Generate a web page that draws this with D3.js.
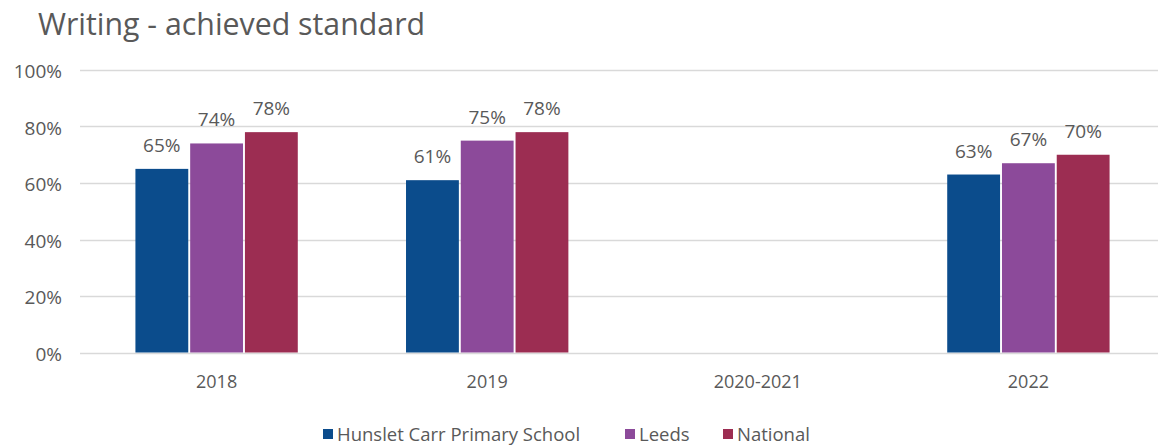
<!DOCTYPE html>
<html>
<head>
<meta charset="utf-8">
<script src="https://cdn.jsdelivr.net/npm/d3@7"></script>
<style>
  html, body { margin: 0; padding: 0; background: #fff; }
  svg { display: block; font-family: "Open Sans", "Noto Sans", sans-serif; }
</style>
</head>
<body>
<svg id="chart" width="1158" height="448"></svg>
<script>
// Writing attainment: percentage of pupils achieving the expected standard
const years = ["2018", "2019", "2020-2021", "2022"];
const seriesNames = ["Hunslet Carr Primary School", "Leeds", "National"];
const school   = [65, 61, null, 63];
const leeds    = [74, 75, null, 67];
const national = [78, 78, null, 70];
const yTicks = [0, 20, 40, 60, 80, 100];
const colours = ["#0B4C8C", "#8C4A9A", "#9C2D52"];

const seriesValues = [school, leeds, national];
const rows = years.map((yr, i) => ({
  year: yr,
  values: seriesNames.map((name, s) => ({ name, s, v: seriesValues[s][i] }))
}));

const svg = d3.select("#chart");
const W = 1158;
const textColour = "#595959";

const x0 = d3.scaleBand().domain(years).range([81.3, 1163.7]).paddingInner(0.4).paddingOuter(0.2);
const x1 = d3.scaleBand().domain(seriesNames).range([0, x0.bandwidth()]).paddingInner(0.035);
const y = d3.scaleLinear().domain([0, 100]).range([352.5, 70]);

// title
svg.append("text")
  .attr("x", 38).attr("y", 35)
  .attr("fill", textColour)
  .style("font-size", "30.3px")
  .text("Writing - achieved standard");

// horizontal gridlines with percentage labels
const yAxis = d3.axisLeft(y).tickValues(yTicks).tickFormat(d => d + "%").tickSize(0).tickPadding(0);
const yg = svg.append("g").attr("transform", "translate(62,0)").call(yAxis);
yg.select(".domain").remove();
yg.selectAll("text").attr("fill", textColour).style("font-size", "19px")
  .style("font-family", "'Open Sans', sans-serif").attr("dy", "0.4em");

svg.append("g").selectAll("line").data(yTicks).join("line")
  .attr("x1", 80).attr("x2", W)
  .attr("y1", d => Math.round(y(d)) + 0.5).attr("y2", d => Math.round(y(d)) + 0.5)
  .attr("stroke", "#d9d9d9").attr("stroke-width", 1.3);

// category axis labels
const xAxis = d3.axisBottom(x0).tickSize(0).tickPadding(0);
const xg = svg.append("g").attr("transform", "translate(0,388)").call(xAxis);
xg.select(".domain").remove();
xg.selectAll("text").attr("fill", textColour).style("font-size", "18px")
  .style("font-family", "'Open Sans', sans-serif").attr("dy", "0");

// grouped bars
const groups = svg.append("g").selectAll("g").data(rows).join("g")
  .attr("transform", d => `translate(${x0(d.year)},0)`);

const present = d => d.values.filter(v => v.v != null);

groups.selectAll("rect").data(present).join("rect")
  .attr("x", d => x1(d.name))
  .attr("width", x1.bandwidth())
  .attr("y", d => y(d.v))
  .attr("height", d => y(0) - y(d.v))
  .attr("fill", d => colours[d.s]);

// value labels above each bar
groups.selectAll("text.val").data(present).join("text")
  .attr("class", "val")
  .attr("x", d => x1(d.name) + x1.bandwidth() / 2)
  .attr("y", d => y(d.v) - 17)
  .attr("text-anchor", "middle")
  .attr("fill", textColour)
  .style("font-size", "19px")
  .text(d => d.v + "%");

// legend
const legendItems = [
  { name: seriesNames[0], x: 323 },
  { name: seriesNames[1], x: 625 },
  { name: seriesNames[2], x: 723 }
];
const lg = svg.append("g").selectAll("g").data(legendItems).join("g")
  .attr("transform", d => `translate(${d.x},0)`);
lg.append("rect").attr("x", 0).attr("y", 429).attr("width", 10).attr("height", 10)
  .attr("fill", (d, i) => colours[i]);
lg.append("text").attr("x", 14).attr("y", 441)
  .attr("fill", textColour).style("font-size", "18.5px")
  .text(d => d.name);
</script>
</body>
</html>
